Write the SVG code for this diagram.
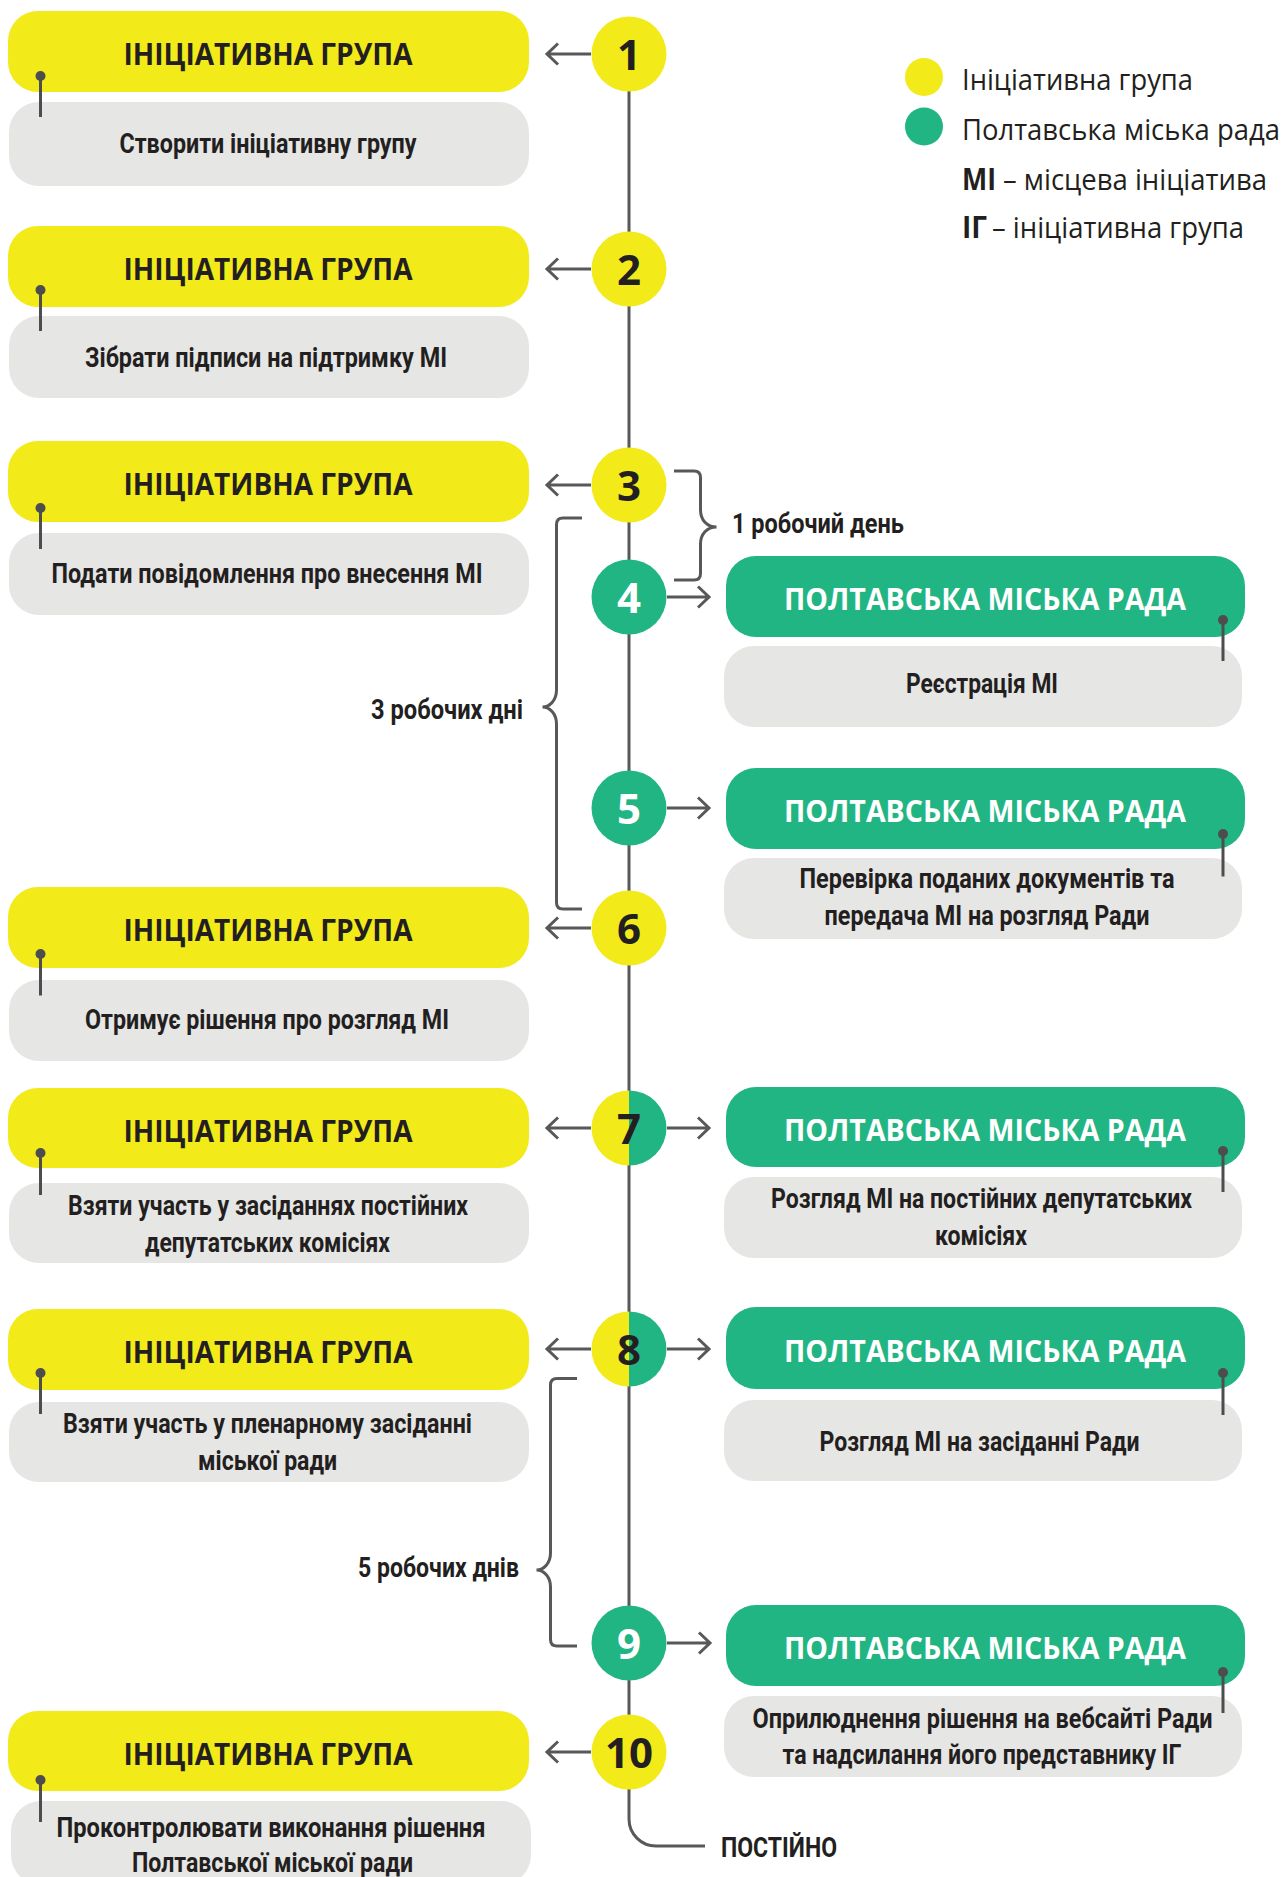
<svg xmlns="http://www.w3.org/2000/svg" width="1286" height="1877" viewBox="0 0 1286 1877">
<style>
.yb{fill:#F2EA19}
.gb{fill:#22B584}
.gr{fill:#E6E6E5}
.hd{font-family:"Open Sans","Noto Sans",sans-serif;font-weight:700;font-size:30px;text-anchor:middle}
.hy{fill:#231F20}
.hg{fill:#FFFFFF}
.bt{font-family:Roboto,"Liberation Sans",sans-serif;font-weight:700;font-size:28px;fill:#231F20;text-anchor:middle}
.lb{font-family:Roboto,"Liberation Sans",sans-serif;font-weight:700;font-size:28px;fill:#231F20}
.lg{font-family:"Open Sans","Noto Sans",sans-serif;font-weight:400;font-size:30px;fill:#231F20}
.lgb{font-family:"Open Sans","Noto Sans",sans-serif;font-weight:700;font-size:30px;fill:#231F20}
.num{font-family:"Open Sans","Noto Sans",sans-serif;font-weight:700;font-size:42px;text-anchor:middle}
.ln{fill:none;stroke:#58585A;stroke-width:3}
.pin{stroke:#4D4D4F;stroke-width:3}
.dot{fill:#4D4D4F}
</style>

<g id="connectors">
  <path class="ln" d="M629,54 V1819 A27,27 0 0 0 656,1846 H705"/>
  <path class="ln" d="M591,54 H547 M558,43.5 L547,54 L558,64.5"/>
  <path class="ln" d="M591,269 H547 M558,258.5 L547,269 L558,279.5"/>
  <path class="ln" d="M591,485 H547 M558,474.5 L547,485 L558,495.5"/>
  <path class="ln" d="M591,928 H547 M558,917.5 L547,928 L558,938.5"/>
  <path class="ln" d="M591,1128 H547 M558,1117.5 L547,1128 L558,1138.5"/>
  <path class="ln" d="M591,1349 H547 M558,1338.5 L547,1349 L558,1359.5"/>
  <path class="ln" d="M591,1752 H547 M558,1741.5 L547,1752 L558,1762.5"/>
  <path class="ln" d="M667,597 H709 M698,586.5 L709,597 L698,607.5"/>
  <path class="ln" d="M667,808 H709 M698,797.5 L709,808 L698,818.5"/>
  <path class="ln" d="M667,1128 H709 M698,1117.5 L709,1128 L698,1138.5"/>
  <path class="ln" d="M667,1349 H709 M698,1338.5 L709,1349 L698,1359.5"/>
  <path class="ln" d="M667,1643 H710 M699,1632.5 L710,1643 L699,1653.5"/>
  <path class="ln" d="M674,471 H694 Q700.5,471 700.5,477.5 V510 C700.5,520 707,527 716.5,527 C707,527 700.5,534 700.5,544 V573.5 Q700.5,580 694,580 H674"/>
  <path class="ln" d="M582,518 H563 Q556.5,518 556.5,524.5 V690 C556.5,700 550,707 542.5,707 C550,707 556.5,714 556.5,724 V902.5 Q556.5,909 563,909 H582"/>
  <path class="ln" d="M577,1378.5 H557 Q550.5,1378.5 550.5,1385 V1553 C550.5,1563 544,1570 536.5,1570 C544,1570 550.5,1577 550.5,1587 V1639.5 Q550.5,1646 557,1646 H577"/>
</g>

<g id="labels">
  <text class="lb" x="732" y="533" textLength="172" lengthAdjust="spacingAndGlyphs">1 робочий день</text>
  <text class="lb" x="371" y="719" textLength="152" lengthAdjust="spacingAndGlyphs">3 робочих дні</text>
  <text class="lb" x="358" y="1577" textLength="161" lengthAdjust="spacingAndGlyphs">5 робочих днів</text>
  <text class="lb" x="721" y="1857" textLength="116" lengthAdjust="spacingAndGlyphs">ПОСТІЙНО</text>
</g>

<g id="legend">
  <circle cx="924" cy="77" r="19" class="yb"/>
  <circle cx="924" cy="126.5" r="19" class="gb"/>
  <text class="lg" x="962" y="90" textLength="231" lengthAdjust="spacingAndGlyphs">Ініціативна група</text>
  <text class="lg" x="962" y="140" textLength="318" lengthAdjust="spacingAndGlyphs">Полтавська міська рада</text>
  <text class="lgb" x="962" y="190" textLength="34" lengthAdjust="spacingAndGlyphs">МІ</text>
  <text class="lg" x="1003" y="190" textLength="264" lengthAdjust="spacingAndGlyphs">– місцева ініціатива</text>
  <text class="lgb" x="962" y="238" textLength="25" lengthAdjust="spacingAndGlyphs">ІГ</text>
  <text class="lg" x="992" y="238" textLength="252" lengthAdjust="spacingAndGlyphs">– ініціативна група</text>
</g>

<g id="step1">
  <rect class="yb" x="8" y="11" width="521" height="81" rx="30"/>
  <rect class="gr" x="9" y="102" width="520" height="84" rx="30"/>
  <line class="pin" x1="40.5" y1="76" x2="40.5" y2="117"/><circle class="dot" cx="40.5" cy="76" r="5"/>
  <text class="hd hy" x="268" y="65" textLength="289" lengthAdjust="spacingAndGlyphs">ІНІЦІАТИВНА ГРУПА</text>
  <text class="bt" x="268" y="153" textLength="297" lengthAdjust="spacingAndGlyphs">Створити ініціативну групу</text>
  <circle class="yb" cx="629" cy="54" r="37.5"/>
  <text class="num hy" x="629" y="69.5">1</text>
</g>

<g id="step2">
  <rect class="yb" x="8" y="226" width="521" height="81" rx="30"/>
  <rect class="gr" x="9" y="316" width="520" height="82" rx="30"/>
  <line class="pin" x1="40.5" y1="290" x2="40.5" y2="331"/><circle class="dot" cx="40.5" cy="290" r="5"/>
  <text class="hd hy" x="268" y="280" textLength="289" lengthAdjust="spacingAndGlyphs">ІНІЦІАТИВНА ГРУПА</text>
  <text class="bt" x="266" y="367" textLength="362" lengthAdjust="spacingAndGlyphs">Зібрати підписи на підтримку МІ</text>
  <circle class="yb" cx="629" cy="269" r="37.5"/>
  <text class="num hy" x="629" y="284.5">2</text>
</g>

<g id="step3">
  <rect class="yb" x="8" y="441" width="521" height="81" rx="30"/>
  <rect class="gr" x="9" y="533" width="520" height="82" rx="30"/>
  <line class="pin" x1="40.5" y1="508" x2="40.5" y2="549"/><circle class="dot" cx="40.5" cy="508" r="5"/>
  <text class="hd hy" x="268" y="495" textLength="289" lengthAdjust="spacingAndGlyphs">ІНІЦІАТИВНА ГРУПА</text>
  <text class="bt" x="267" y="583" textLength="431" lengthAdjust="spacingAndGlyphs">Подати повідомлення про внесення МІ</text>
  <circle class="yb" cx="629" cy="485" r="37.5"/>
  <text class="num hy" x="629" y="500.5">3</text>
</g>

<g id="step4">
  <rect class="gb" x="726" y="556" width="519" height="81" rx="30"/>
  <rect class="gr" x="724" y="646" width="518" height="81" rx="30"/>
  <line class="pin" x1="1223" y1="620" x2="1223" y2="661"/><circle class="dot" cx="1223" cy="620" r="5"/>
  <text class="hd hg" x="985" y="610" textLength="402" lengthAdjust="spacingAndGlyphs">ПОЛТАВСЬКА МІСЬКА РАДА</text>
  <text class="bt" x="982" y="693" textLength="152" lengthAdjust="spacingAndGlyphs">Реєстрація МІ</text>
  <circle class="gb" cx="629" cy="597" r="37.5"/>
  <text class="num hg" x="629" y="612.5">4</text>
</g>

<g id="step5">
  <rect class="gb" x="726" y="768" width="519" height="81" rx="30"/>
  <rect class="gr" x="724" y="858" width="518" height="81" rx="30"/>
  <line class="pin" x1="1223" y1="834" x2="1223" y2="876.5"/><circle class="dot" cx="1223" cy="834" r="5"/>
  <text class="hd hg" x="985" y="822" textLength="402" lengthAdjust="spacingAndGlyphs">ПОЛТАВСЬКА МІСЬКА РАДА</text>
  <text class="bt" x="987" y="888" textLength="375" lengthAdjust="spacingAndGlyphs">Перевірка поданих документів та</text>
  <text class="bt" x="987" y="925" textLength="325" lengthAdjust="spacingAndGlyphs">передача МІ на розгляд Ради</text>
  <circle class="gb" cx="629" cy="808" r="37.5"/>
  <text class="num hg" x="629" y="823.5">5</text>
</g>

<g id="step6">
  <rect class="yb" x="8" y="887" width="521" height="81" rx="30"/>
  <rect class="gr" x="9" y="980" width="520" height="81" rx="30"/>
  <line class="pin" x1="40.5" y1="954" x2="40.5" y2="995.5"/><circle class="dot" cx="40.5" cy="954" r="5"/>
  <text class="hd hy" x="268" y="941" textLength="289" lengthAdjust="spacingAndGlyphs">ІНІЦІАТИВНА ГРУПА</text>
  <text class="bt" x="267" y="1029" textLength="364" lengthAdjust="spacingAndGlyphs">Отримує рішення про розгляд МІ</text>
  <circle class="yb" cx="629" cy="928" r="37.5"/>
  <text class="num hy" x="629" y="943.5">6</text>
</g>

<g id="step7">
  <rect class="yb" x="8" y="1088" width="521" height="80" rx="30"/>
  <rect class="gr" x="9" y="1183" width="520" height="80" rx="30"/>
  <line class="pin" x1="40.5" y1="1153" x2="40.5" y2="1195"/><circle class="dot" cx="40.5" cy="1153" r="5"/>
  <text class="hd hy" x="268" y="1142" textLength="289" lengthAdjust="spacingAndGlyphs">ІНІЦІАТИВНА ГРУПА</text>
  <text class="bt" x="268" y="1215" textLength="400" lengthAdjust="spacingAndGlyphs">Взяти участь у засіданнях постійних</text>
  <text class="bt" x="267.5" y="1251.5" textLength="245" lengthAdjust="spacingAndGlyphs">депутатських комісіях</text>
  <rect class="gb" x="726" y="1087" width="519" height="80" rx="30"/>
  <rect class="gr" x="724" y="1177" width="518" height="81" rx="30"/>
  <line class="pin" x1="1223" y1="1151" x2="1223" y2="1192"/><circle class="dot" cx="1223" cy="1151" r="5"/>
  <text class="hd hg" x="985" y="1141" textLength="402" lengthAdjust="spacingAndGlyphs">ПОЛТАВСЬКА МІСЬКА РАДА</text>
  <text class="bt" x="981.5" y="1208" textLength="421" lengthAdjust="spacingAndGlyphs">Розгляд МІ на постійних депутатських</text>
  <text class="bt" x="981" y="1245" textLength="92" lengthAdjust="spacingAndGlyphs">комісіях</text>
  <path class="yb" d="M629,1090.5 A37.5,37.5 0 0 0 629,1165.5 Z"/>
  <path class="gb" d="M629,1090.5 A37.5,37.5 0 0 1 629,1165.5 Z"/>
  <text class="num hy" x="629" y="1143.5">7</text>
</g>

<g id="step8">
  <rect class="yb" x="8" y="1309" width="521" height="81" rx="30"/>
  <rect class="gr" x="9" y="1402" width="520" height="80" rx="30"/>
  <line class="pin" x1="40.5" y1="1373" x2="40.5" y2="1414"/><circle class="dot" cx="40.5" cy="1373" r="5"/>
  <text class="hd hy" x="268" y="1363" textLength="289" lengthAdjust="spacingAndGlyphs">ІНІЦІАТИВНА ГРУПА</text>
  <text class="bt" x="267.5" y="1433" textLength="409" lengthAdjust="spacingAndGlyphs">Взяти участь у пленарному засіданні</text>
  <text class="bt" x="267.5" y="1470" textLength="139" lengthAdjust="spacingAndGlyphs">міської ради</text>
  <rect class="gb" x="726" y="1307" width="519" height="82" rx="30"/>
  <rect class="gr" x="724" y="1400" width="518" height="81" rx="30"/>
  <line class="pin" x1="1223" y1="1373" x2="1223" y2="1415"/><circle class="dot" cx="1223" cy="1373" r="5"/>
  <text class="hd hg" x="985" y="1362" textLength="402" lengthAdjust="spacingAndGlyphs">ПОЛТАВСЬКА МІСЬКА РАДА</text>
  <text class="bt" x="979.5" y="1451" textLength="320" lengthAdjust="spacingAndGlyphs">Розгляд МІ на засіданні Ради</text>
  <path class="yb" d="M629,1311.5 A37.5,37.5 0 0 0 629,1386.5 Z"/>
  <path class="gb" d="M629,1311.5 A37.5,37.5 0 0 1 629,1386.5 Z"/>
  <text class="num hy" x="629" y="1364.5">8</text>
</g>

<g id="step9">
  <rect class="gb" x="726" y="1605" width="519" height="81" rx="30"/>
  <rect class="gr" x="724" y="1696" width="518" height="81" rx="30"/>
  <line class="pin" x1="1223" y1="1672" x2="1223" y2="1713"/><circle class="dot" cx="1223" cy="1672" r="5"/>
  <text class="hd hg" x="985" y="1659" textLength="402" lengthAdjust="spacingAndGlyphs">ПОЛТАВСЬКА МІСЬКА РАДА</text>
  <text class="bt" x="982.5" y="1727.5" textLength="460" lengthAdjust="spacingAndGlyphs">Оприлюднення рішення на вебсайті Ради</text>
  <text class="bt" x="982" y="1764" textLength="399" lengthAdjust="spacingAndGlyphs">та надсилання його представнику ІГ</text>
  <circle class="gb" cx="629" cy="1643" r="37.5"/>
  <text class="num hg" x="629" y="1658.5">9</text>
</g>

<g id="step10">
  <rect class="yb" x="8" y="1711" width="521" height="80" rx="30"/>
  <rect class="gr" x="11" y="1801" width="520" height="84" rx="30"/>
  <line class="pin" x1="40.5" y1="1780" x2="40.5" y2="1822"/><circle class="dot" cx="40.5" cy="1780" r="5"/>
  <text class="hd hy" x="268" y="1765" textLength="289" lengthAdjust="spacingAndGlyphs">ІНІЦІАТИВНА ГРУПА</text>
  <text class="bt" x="271" y="1837" textLength="429" lengthAdjust="spacingAndGlyphs">Проконтролювати виконання рішення</text>
  <text class="bt" x="272.5" y="1872" textLength="281" lengthAdjust="spacingAndGlyphs">Полтавської міської ради</text>
  <circle class="yb" cx="629" cy="1752" r="37.5"/>
  <text class="num hy" x="629" y="1767.5">10</text>
</g>
</svg>
